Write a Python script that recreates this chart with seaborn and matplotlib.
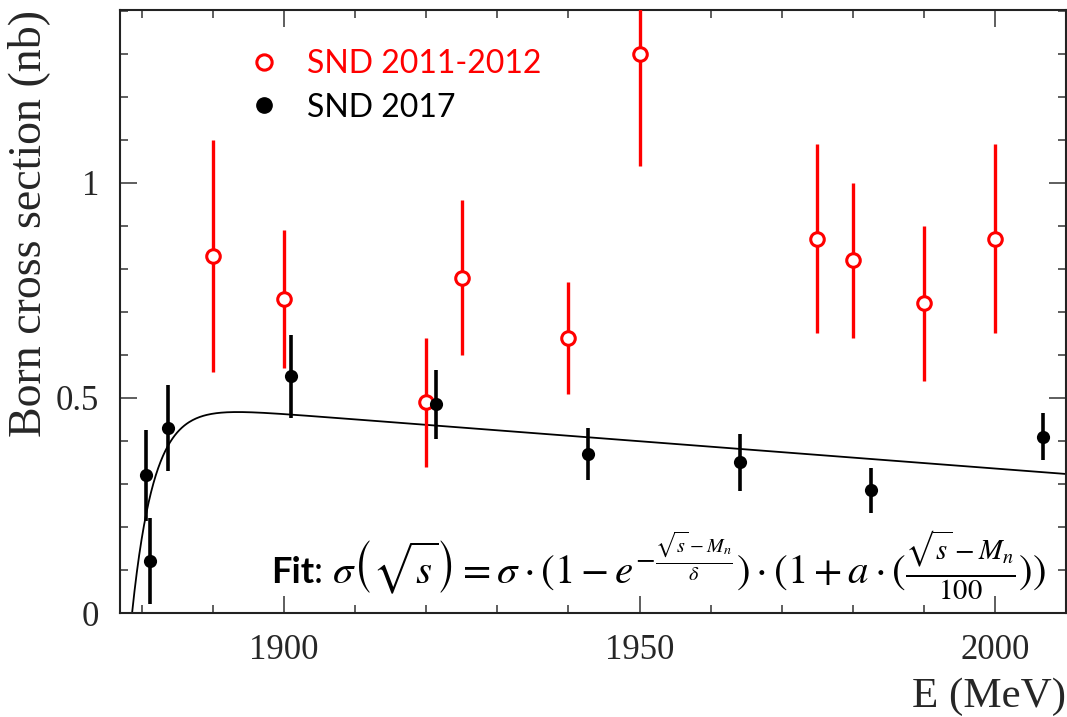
import numpy as np
import pandas as pd
import matplotlib
matplotlib.use("Agg")
import matplotlib.pyplot as plt
from matplotlib.lines import Line2D
from matplotlib.ticker import MultipleLocator, FixedFormatter, FixedLocator
from matplotlib.offsetbox import TextArea, HPacker, AnchoredOffsetbox
import seaborn as sns

# ---------------- data ----------------
red_E = [1890, 1900, 1920, 1925, 1940, 1950, 1975, 1980, 1990, 2000]
red_sigma = [0.83, 0.73, 0.49, 0.78, 0.64, 1.30, 0.87, 0.82, 0.72, 0.87]
red_err = [0.27, 0.16, 0.15, 0.18, 0.13, 0.26, 0.22, 0.18, 0.18, 0.22]

black_E = [1880.6, 1881.1, 1883.6, 1901.0, 1921.4, 1942.7, 1964.1, 1982.5, 2006.8]
black_sigma = [0.32, 0.12, 0.43, 0.55, 0.485, 0.37, 0.35, 0.285, 0.41]
black_err = [0.105, 0.10, 0.10, 0.097, 0.08, 0.06, 0.067, 0.053, 0.055]

# fit parameters (curve shown in the chart)
fit_Mn = 1878.6
fit_sigma0 = 0.49
fit_delta = 3.1
fit_a = -0.259

x_ticks = [1900, 1950, 2000]
x_tick_labels = ["1900", "1950", "2000"]
y_ticks = [0, 0.5, 1]
y_tick_labels = ["0", "0.5", "1"]

legend_labels = ["SND 2011-2012", "SND 2017"]

# ---------------- style ----------------
sns.set_style("ticks")
plt.rcParams["font.family"] = ["Liberation Serif", "DejaVu Serif"]
plt.rcParams["mathtext.fontset"] = "stix"

RED = "#ff0000"

fig = plt.figure(figsize=(10.67, 7.17), dpi=100)
ax = fig.add_axes([120 / 1067, 104 / 717, 946 / 1067, 603 / 717])

df_red = pd.DataFrame({"E": red_E, "sigma": red_sigma, "err": red_err})
df_black = pd.DataFrame({"E": black_E, "sigma": black_sigma, "err": black_err})

# fit curve
E_fit = np.linspace(fit_Mn, 2012, 800)
sig_fit = fit_sigma0 * (1 - np.exp(-(E_fit - fit_Mn) / fit_delta)) * (1 + fit_a * (E_fit - fit_Mn) / 100)
df_fit = pd.DataFrame({"E": E_fit, "sigma": sig_fit})
sns.lineplot(data=df_fit, x="E", y="sigma", color="black", lw=1.3, ax=ax, zorder=2)

# error bars
ax.vlines(df_red["E"], df_red["sigma"] - df_red["err"], df_red["sigma"] + df_red["err"],
          color=RED, lw=2.4, zorder=3)
ax.vlines(df_black["E"], df_black["sigma"] - df_black["err"], df_black["sigma"] + df_black["err"],
          color="black", lw=2.6, zorder=3)

# markers
sns.scatterplot(data=df_red, x="E", y="sigma", marker="o", s=95, facecolor="white",
                edgecolor=RED, linewidth=2.2, ax=ax, zorder=4)
sns.scatterplot(data=df_black, x="E", y="sigma", marker="o", s=90, color="black",
                edgecolor="black", linewidth=0, ax=ax, zorder=4)

ax.set_xlim(1876.9, 2010)
ax.set_ylim(0, 1.402)

ax.xaxis.set_major_locator(FixedLocator(x_ticks))
ax.xaxis.set_major_formatter(FixedFormatter(x_tick_labels))
ax.yaxis.set_major_locator(FixedLocator(y_ticks))
ax.yaxis.set_major_formatter(FixedFormatter(y_tick_labels))
ax.xaxis.set_minor_locator(MultipleLocator(10))
ax.yaxis.set_minor_locator(MultipleLocator(0.1))

ax.tick_params(which="both", direction="in", top=True, right=True, width=1.1,
               color="#333333", labelsize=25, pad=15)
ax.tick_params(which="major", length=12)
ax.tick_params(which="minor", length=6)
for s in ax.spines.values():
    s.set_linewidth(1.5)
    s.set_color("#222222")

ax.set_xlabel("E (MeV)", fontsize=31, loc="right", labelpad=8)
ax.set_ylabel("Born cross section (nb)", fontsize=33, loc="top", labelpad=4)

# legend
handles = [
    Line2D([], [], marker="o", ls="none", markersize=11, markerfacecolor="white",
           markeredgecolor=RED, markeredgewidth=2.2),
    Line2D([], [], marker="o", ls="none", markersize=11, markerfacecolor="black",
           markeredgecolor="black"),
]
leg = ax.legend(handles, legend_labels, loc="upper left", bbox_to_anchor=(0.135, 0.935),
                frameon=False, handlelength=1.0, handletextpad=0.85, labelspacing=0.42,
                prop={"family": "Lato", "size": 23}, borderaxespad=0, borderpad=0)
leg.get_texts()[0].set_color(RED)
leg.get_texts()[1].set_color("black")

# fit formula
ta_fit = TextArea("Fit", textprops=dict(family="Lato", weight="bold", size=26, color="black"))
ta_colon = TextArea(": ", textprops=dict(family="Lato", size=26, color="black"))
ta_formula = TextArea(r"$\sigma\left(\sqrt{s}\right) = \sigma\cdot(1-e^{-\frac{\sqrt{s}-M_n}{\delta}})"
                      r"\cdot(1+a\cdot(\frac{\sqrt{s}-M_n}{100}))$",
                      textprops=dict(size=29.5, color="black"))
box = HPacker(children=[ta_fit, ta_colon, ta_formula], align="baseline", pad=0, sep=0)
anch = AnchoredOffsetbox(loc="lower right", child=box, frameon=False,
                         bbox_to_anchor=(1046 / 1067, (717 - 602) / 717),
                         bbox_transform=fig.transFigure, borderpad=0, pad=0)
ax.add_artist(anch)

fig.savefig("out.png", dpi=100)
